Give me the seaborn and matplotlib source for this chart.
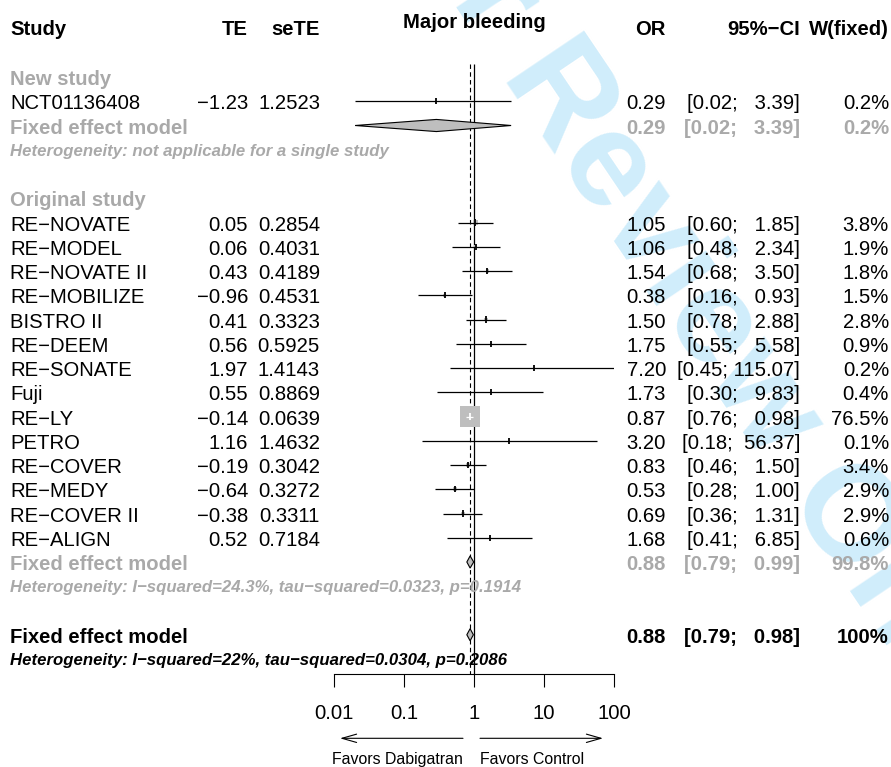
import numpy as np
import pandas as pd
import matplotlib
matplotlib.use("Agg")
import matplotlib.pyplot as plt
import matplotlib.transforms as mtransforms
from matplotlib.ticker import FixedLocator, FixedFormatter, NullLocator
import seaborn as sns

# ---- study-level data -------------------------------------------------------
studies = ["NCT01136408", "RE\u2212NOVATE", "RE\u2212MODEL", "RE\u2212NOVATE II",
           "RE\u2212MOBILIZE", "BISTRO II", "RE\u2212DEEM", "RE\u2212SONATE", "Fuji",
           "RE\u2212LY", "PETRO", "RE\u2212COVER", "RE\u2212MEDY", "RE\u2212COVER II",
           "RE\u2212ALIGN"]
te = [-1.23, 0.05, 0.06, 0.43, -0.96, 0.41, 0.56, 1.97, 0.55, -0.14, 1.16,
      -0.19, -0.64, -0.38, 0.52]
se_te = [1.2523, 0.2854, 0.4031, 0.4189, 0.4531, 0.3323, 0.5925, 1.4143,
         0.8869, 0.0639, 1.4632, 0.3042, 0.3272, 0.3311, 0.7184]
odds_ratio = [0.29, 1.05, 1.06, 1.54, 0.38, 1.50, 1.75, 7.20, 1.73, 0.87,
              3.20, 0.83, 0.53, 0.69, 1.68]
ci_lower = [0.02, 0.60, 0.48, 0.68, 0.16, 0.78, 0.55, 0.45, 0.30, 0.76,
            0.18, 0.46, 0.28, 0.36, 0.41]
ci_upper = [3.39, 1.85, 2.34, 3.50, 0.93, 2.88, 5.58, 115.07, 9.83, 0.98,
            56.37, 1.50, 1.00, 1.31, 6.85]
weight_fixed = [0.2, 3.8, 1.9, 1.8, 1.5, 2.8, 0.9, 0.2, 0.4, 76.5, 0.1,
                3.4, 2.9, 2.9, 0.6]

# ---- pooled estimates (new study, original studies, overall) -----------------
pooled_label = "Fixed effect model"
pooled_or = [0.29, 0.88, 0.88]
pooled_lower = [0.02, 0.79, 0.79]
pooled_upper = [3.39, 0.99, 0.98]
pooled_weight = [0.2, 99.8, 100.0]
heterogeneity = [
    "Heterogeneity: not applicable for a single study",
    "Heterogeneity: I\u2212squared=24.3%, tau\u2212squared=0.0323, p=0.1914",
    "Heterogeneity: I\u2212squared=22%, tau\u2212squared=0.0304, p=0.2086",
]
subgroups = ["New study", "Original study"]
axis_ticks = [0.01, 0.1, 1, 10, 100]
axis_tick_labels = ["0.01", "0.1", "1", "10", "100"]
favours = ["Favors Dabigatran", "Favors Control"]
title = "Major bleeding"

# ---- layout (rows are in line units, x columns in pixels) --------------------
W, H = 891, 767
ROW0, ROWH = 77.0, 24.25
study_rows = [1] + list(range(6, 20))
subgroup_rows = [0, 5]
pooled_rows = [2, 20, 23]
het_rows = [3, 21, 24]
axis_row = (673.5 - ROW0) / ROWH

GREY = "#A9A9A9"
FS = 14.6
FS_HET = 12.1

sns.set_theme(style="white")
plt.rcParams["font.family"] = ["Liberation Sans", "DejaVu Sans"]
plt.rcParams["text.color"] = "black"
plt.rcParams["axes.unicode_minus"] = True

fig = plt.figure(figsize=(W / 100, H / 100), dpi=100)
fig.patch.set_facecolor("white")

# diagonal watermark behind everything
fig.text(685 / W, 1 - 284 / H, "For Review Only", rotation=-56,
         rotation_mode="anchor", ha="center", va="center", fontsize=98,
         fontweight="bold", color="#D0EDFB", zorder=-1)

ax = fig.add_axes([334 / W, 0, 280 / W, 1])
ax.patch.set_visible(False)
ax.set_xscale("log")
ax.set_xlim(0.01, 100)
ax.set_ylim((H - ROW0) / ROWH, -ROW0 / ROWH)

tr = mtransforms.blended_transform_factory(fig.transFigure, ax.transData)


def put(xpx, row, s, ha="left", size=FS, weight="normal", style="normal",
        color="black", dy=0.33):
    ax.text(xpx / W, row + dy, s, transform=tr, ha=ha, va="baseline",
            fontsize=size, fontweight=weight, fontstyle=style, color=color,
            clip_on=False, zorder=6)


def fmt_num(v, nd):
    s = f"{abs(v):.{nd}f}"
    return ("\u2212" + s) if v < 0 else s


def fmt_ci(lo, hi):
    return f"[{lo:.2f}; {hi:>6.2f}]"


def fmt_w(w):
    return "100%" if w >= 100 else f"{w:.1f}%"


# headers
hdr_dy = (35 - ROW0) / ROWH + 2
for xpx, s, ha in [(10, "Study", "left"), (248, "TE", "right"),
                   (320, "seTE", "right"), (666, "OR", "right"),
                   (800, "95%\u2212CI", "right"), (889, "W(fixed)", "right")]:
    put(xpx, -2, s, ha=ha, weight="bold", dy=hdr_dy)
ax.text(0.5, (28 - ROW0) / ROWH, title, transform=mtransforms.blended_transform_factory(
    ax.transAxes, ax.transData), ha="center", va="baseline", fontsize=FS,
    fontweight="bold", color="black", zorder=6)

# subgroup headings
for r, s in zip(subgroup_rows, subgroups):
    put(10, r, s, weight="bold", color=GREY)

# study rows: text columns
for r, name, t, se, o, lo, hi, w in zip(study_rows, studies, te, se_te,
                                         odds_ratio, ci_lower, ci_upper,
                                         weight_fixed):
    put(10, r, name)
    put(248, r, fmt_num(t, 2), ha="right")
    put(320, r, f"{se:.4f}", ha="right")
    put(666, r, f"{o:.2f}", ha="right")
    put(800, r, fmt_ci(lo, hi), ha="right")
    put(889, r, fmt_w(w), ha="right")

# pooled rows
for k, (r, o, lo, hi, w) in enumerate(zip(pooled_rows, pooled_or, pooled_lower,
                                          pooled_upper, pooled_weight)):
    col = "black" if k == len(pooled_rows) - 1 else GREY
    put(10, r, pooled_label, weight="bold", color=col)
    put(666, r, f"{o:.2f}", ha="right", weight="bold", color=col)
    put(800, r, fmt_ci(lo, hi), ha="right", weight="bold", color=col)
    put(889, r, fmt_w(w), ha="right", weight="bold", color=col)
    ax.fill([lo, o, hi, o], [r, r - 0.25, r, r + 0.25], facecolor="#BEBEBE",
            edgecolor="black", linewidth=0.8, zorder=4)

for k, (r, s) in enumerate(zip(het_rows, heterogeneity)):
    col = "black" if k == len(het_rows) - 1 else GREY
    put(10, r, s, size=FS_HET, weight="bold", style="italic", color=col,
        dy=0.25)

# squares with area proportional to the fixed-effect weight
MAX_SIDE_PX = 20.5
max_w = max(weight_fixed)
s_max = (MAX_SIDE_PX * 72 / 100) ** 2
df = pd.DataFrame({"or": odds_ratio, "row": study_rows, "w": weight_fixed})
sns.scatterplot(data=df, x="or", y="row", size="w", sizes=(0, s_max),
                size_norm=(0, max_w), marker="s", color="#BEBEBE",
                linewidth=0, legend=False, ax=ax, zorder=3)

# confidence intervals: drawn white when they fit inside their square
px_per_decade = 280 / 4
half_side = MAX_SIDE_PX / 2 * np.sqrt(np.array(weight_fixed) / max_w)
left_px = px_per_decade * np.log10(np.array(odds_ratio) / np.array(ci_lower))
right_px = px_per_decade * np.log10(np.array(ci_upper) / np.array(odds_ratio))
inside = (left_px <= half_side) & (right_px <= half_side)
line_cols = ["white" if i else "black" for i in inside]
ax.hlines(study_rows, ci_lower, ci_upper, colors=line_cols, linewidth=0.9,
          zorder=4)
ax.scatter(odds_ratio, study_rows, marker="|", s=20, c=line_cols,
           linewidths=1.3, zorder=5)

# reference line at 1 and fixed-effect estimate
ax.vlines(1, -0.55, axis_row, color="black", linewidth=0.9, zorder=2)
ax.vlines(pooled_or[-1], -0.55, axis_row, color="black", linewidth=0.8,
          linestyles=(0, (4.0, 3.0)), zorder=2)

# x axis
for sp in ["top", "left", "right"]:
    ax.spines[sp].set_visible(False)
ax.spines["bottom"].set_position(("data", axis_row))
ax.spines["bottom"].set_bounds(axis_ticks[0], axis_ticks[-1])
ax.spines["bottom"].set_color("black")
ax.spines["bottom"].set_linewidth(0.8)
ax.xaxis.set_major_locator(FixedLocator(axis_ticks))
ax.xaxis.set_major_formatter(FixedFormatter(axis_tick_labels))
ax.xaxis.set_minor_locator(NullLocator())
ax.tick_params(axis="x", which="major", direction="out", length=9.6, width=0.8,
               color="black", labelsize=FS, labelcolor="black", pad=12.5,
               bottom=True)
ax.tick_params(axis="y", left=False, labelleft=False)
ax.set_xlabel("")
ax.set_ylabel("")
ax.grid(False)

# direction arrows and labels
arrow_row = (738.3 - ROW0) / ROWH
arrow_kw = dict(arrowstyle="->,head_length=1.05,head_width=0.3", lw=0.8,
                color="black", shrinkA=0, shrinkB=0, mutation_scale=10)
ax.annotate("", xy=(340 / W, arrow_row), xytext=(463 / W, arrow_row),
            xycoords=tr, textcoords=tr, arrowprops=arrow_kw)
ax.annotate("", xy=(603 / W, arrow_row), xytext=(480 / W, arrow_row),
            xycoords=tr, textcoords=tr, arrowprops=arrow_kw)
lab_row = (764 - ROW0) / ROWH
put(463, lab_row, favours[0], ha="right", size=11.4, dy=0)
put(480, lab_row, favours[1], ha="left", size=11.4, dy=0)

fig.savefig("out.png", dpi=100)
